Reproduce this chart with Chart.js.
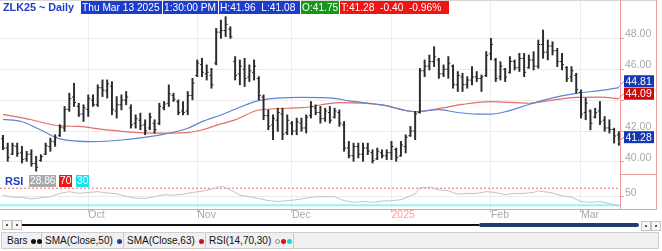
<!DOCTYPE html>
<html>
<head>
<meta charset="utf-8">
<script src="https://cdn.jsdelivr.net/npm/chart.js@4.4.1/dist/chart.umd.min.js"></script>
<style>
body { margin: 0; background: #fff; font-family: "Liberation Sans", Arial, sans-serif; }
#wrap { position: relative; width: 662px; height: 251px; overflow: hidden; background: #fff; }
canvas { position: absolute; left: 0; }
#priceChart { top: 0; }
#rsiChart { top: 174px; }
.ln { position: absolute; background: #f29a9a; }
.box { position: absolute; height: 13px; line-height: 13px; font-size: 10.2px; color: #fff; white-space: pre; overflow: hidden; padding-left: 1px; box-sizing: border-box; }
.lbl { position: absolute; font-weight: bold; color: #1e3cc8; white-space: pre; }
.btn { position: absolute; width: 8px; height: 8px; border: 1px solid #c4c4c4; background: #f6f6f6; }
.btn i { position: absolute; left: 3px; top: 3px; width: 2px; height: 2px; background: #555; }
#legend { position: absolute; left: 1px; top: 232px; width: 658px; height: 17px; background: #f0f0f0; border: 1px solid #cfcfcf; box-sizing: border-box; }
.item { position: absolute; top: 0; height: 15px; line-height: 15px; font-size: 10px; color: #111; border-right: 1px solid #c9c9c9; white-space: pre; padding-left: 3px; box-sizing: border-box; }
.dot { display: inline-block; width: 5px; height: 5px; border-radius: 50%; margin-left: 1px; vertical-align: 0px; }
</style>
</head>
<body>
<div id="wrap">
<canvas id="priceChart" width="662" height="174"></canvas>
<canvas id="rsiChart" width="662" height="48"></canvas>

<div class="ln" style="left:0;top:0;width:657px;height:1px;background:#d6d6d6"></div>
<div class="ln" style="left:620px;top:0;width:1px;height:210px"></div>
<div class="ln" style="left:656px;top:0;width:1px;height:210px"></div>
<div class="ln" style="left:621px;top:174px;width:36px;height:1px"></div>
<div class="ln" style="left:0;top:209px;width:657px;height:1px"></div>

<div class="lbl" style="left:3px;top:1px;font-size:10.8px;line-height:13px;background:#fff">ZLK25 ~ Daily</div>
<div class="box" style="left:81px;top:1px;width:81px;background:#1b3ccc">Thu Mar 13 2025</div>
<div class="box" style="left:163px;top:1px;width:55px;background:#1b3ccc">1:30:00 PM</div>
<div class="box" style="left:219px;top:1px;width:81px;background:#1b3ccc">H:41.96  L:41.08</div>
<div class="box" style="left:301px;top:1px;width:38px;background:#16961a">O:41.75</div>
<div class="box" style="left:340px;top:1px;width:109px;background:#f01414">T:41.28  -0.40  -0.96%</div>

<div class="lbl" style="left:5px;top:175px;font-size:11px;line-height:12px">RSI</div>
<div class="box" style="left:29px;top:175px;width:27px;height:12px;line-height:12px;background:#a9a9a9">28.86</div>
<div class="box" style="left:59px;top:175px;width:13px;height:12px;line-height:12px;background:#ee1616">70</div>
<div class="box" style="left:76px;top:175px;width:13px;height:12px;line-height:12px;background:#16e2ee">30</div>

<div class="btn" style="left:2px;top:220px"><i></i></div>
<div class="btn" style="left:12px;top:220px"><i></i></div>
<div class="ln" style="left:22px;top:224px;width:457px;height:2px;background:#111"></div>
<div class="ln" style="left:479px;top:223px;width:160px;height:4px;background:#1f3d6b;border-radius:2px"></div>
<div class="btn" style="left:641px;top:221px"><i></i></div>
<div class="btn" style="left:651px;top:221px"><i></i></div>

<div id="legend">
  <div class="item" style="left:2px;width:38px">Bars <span class="dot" style="background:#111"></span><span class="dot" style="background:#111"></span></div>
  <div class="item" style="left:40px;width:82px">SMA(Close,50) <span class="dot" style="background:#1b3ca6"></span></div>
  <div class="item" style="left:122px;width:82px">SMA(Close,63) <span class="dot" style="background:#d01010"></span></div>
  <div class="item" style="left:204px;width:88px">RSI(14,70,30) <span class="dot" style="border:1px solid #888;width:3px;height:3px"></span><span class="dot" style="background:#e01010"></span><span class="dot" style="background:#10d8e0"></span></div>
</div>
</div>

<script>
// bar index 0 = Sep 5 2024, last = Mar 13 2025
const monthTicks = [18, 41, 61, 82, 103, 122];
const monthLabels = ['Oct', 'Nov', 'Dec', '2025', 'Feb', 'Mar'];
const priceTicks = [40, 42, 44, 46, 48];
const rsiTicks = [50];
const rsiUpper = 70;
const rsiLower = 30;

const opens = [41.5, 40.9, 40.5, 41.0, 40.6, 40.2, 40.5, 39.9, 40.1, 40.5,
  41.0, 41.3, 41.7, 42.2, 43.4, 44.2, 43.6, 43.1, 43.4, 44.0,
  43.7, 44.8, 44.6, 44.9, 43.3, 43.7, 44.0, 43.5, 42.5, 42.7,
  42.4, 42.2, 42.5, 42.5, 43.5, 43.8, 44.3, 43.9, 43.3, 43.3,
  44.3, 45.6, 46.3, 45.7, 45.6, 46.4, 48.4, 48.5, 48.6, 46.5,
  45.7, 46.0, 45.5, 45.8, 45.4, 44.2, 43.0, 42.4, 42.7, 43.1,
  41.9, 42.5, 42.0, 42.5, 42.2, 43.0, 43.5, 43.2, 42.8, 43.2,
  42.9, 43.2, 42.4, 40.9, 40.4, 41.0, 40.5, 40.9, 40.6, 40.2,
  40.6, 40.4, 40.6, 40.8, 40.4, 41.0, 41.7, 42.0, 43.2, 45.9,
  46.2, 46.5, 46.6, 45.7, 46.0, 46.2, 45.0, 45.5, 45.0, 45.3,
  45.5, 45.4, 45.6, 47.0, 46.6, 45.5, 46.0, 45.8, 46.5, 46.1,
  46.7, 46.1, 46.6, 46.2, 47.6, 47.1, 47.5, 47.2, 46.5, 46.1,
  45.5, 45.6, 44.5, 43.2, 43.3, 42.9, 43.3, 42.7, 42.2, 42.1,
  41.75];
const highs = [41.72, 41.22, 41.22, 41.22, 41.01, 40.69, 40.79, 40.36, 40.47, 41.22,
  41.55, 41.76, 42.41, 43.59, 44.45, 45.09, 43.80, 43.70, 44.34, 44.34,
  44.99, 45.31, 45.31, 45.20, 44.23, 44.34, 44.56, 43.70, 43.05, 43.16,
  42.73, 43.16, 42.73, 43.80, 43.91, 44.99, 44.45, 44.02, 43.91, 44.56,
  45.41, 46.60, 46.71, 46.28, 46.06, 48.64, 49.18, 49.40, 48.75, 46.82,
  46.60, 46.71, 46.28, 46.60, 45.52, 44.34, 43.37, 43.05, 43.48, 43.48,
  43.05, 42.62, 42.84, 42.84, 43.05, 43.91, 43.70, 43.59, 43.48, 43.59,
  43.48, 43.37, 42.62, 41.33, 41.22, 41.22, 41.22, 41.22, 40.79, 40.90,
  40.79, 40.79, 41.33, 40.90, 41.33, 41.76, 42.30, 43.27, 46.06, 46.60,
  46.92, 47.46, 46.71, 46.28, 46.82, 46.28, 45.85, 45.74, 45.52, 46.17,
  45.85, 45.63, 47.14, 48.00, 46.71, 46.49, 46.06, 46.82, 46.60, 47.03,
  47.03, 46.92, 47.14, 47.89, 48.54, 47.89, 47.78, 47.35, 47.03, 46.17,
  46.17, 45.74, 44.66, 44.13, 43.37, 43.48, 43.91, 42.94, 42.73, 42.19,
  41.96];
const lows = [40.79, 40.04, 40.47, 40.36, 39.93, 40.04, 39.72, 39.40, 40.04, 40.47,
  40.69, 41.01, 41.65, 41.98, 43.27, 43.59, 42.94, 42.62, 42.94, 43.59,
  43.59, 44.23, 44.13, 43.05, 42.84, 43.37, 43.70, 42.19, 42.19, 42.08,
  41.76, 42.08, 41.87, 42.41, 43.37, 43.59, 43.91, 43.05, 43.05, 43.05,
  44.02, 45.52, 45.52, 45.30, 44.77, 46.28, 48.00, 48.11, 48.00, 45.30,
  44.99, 44.88, 45.20, 45.30, 44.02, 42.73, 42.08, 41.44, 41.98, 41.44,
  41.76, 41.76, 41.76, 41.98, 41.87, 42.84, 43.05, 42.51, 42.62, 42.51,
  42.84, 42.30, 40.69, 40.26, 40.04, 40.26, 40.04, 40.47, 39.93, 40.15,
  40.26, 40.15, 40.15, 40.04, 40.36, 40.58, 41.65, 41.44, 43.16, 45.52,
  45.95, 46.17, 45.41, 45.52, 45.41, 44.77, 44.56, 44.56, 44.77, 44.99,
  45.20, 44.56, 45.52, 46.60, 45.20, 45.30, 45.20, 45.74, 45.95, 45.85,
  45.52, 46.06, 45.95, 46.06, 46.71, 46.60, 46.92, 46.17, 45.95, 45.20,
  45.20, 44.45, 42.84, 42.73, 42.08, 42.84, 42.41, 41.98, 41.87, 41.22,
  41.08];
const closes = [40.9, 40.30, 41.05, 40.55, 40.15, 40.50, 39.90, 39.65, 40.35, 41.05,
  41.35, 41.60, 42.25, 43.40, 44.10, 43.85, 43.10, 43.50, 44.10, 43.70,
  44.80, 44.65, 45.05, 43.40, 43.70, 44.00, 44.20, 42.40, 42.80, 42.35,
  42.00, 42.90, 42.10, 43.60, 43.75, 44.40, 44.05, 43.20, 43.20, 44.30,
  45.10, 46.40, 45.80, 45.80, 45.00, 48.40, 48.50, 48.90, 48.10, 45.60,
  46.20, 45.40, 45.90, 46.20, 44.30, 43.00, 42.30, 42.80, 43.20, 41.80,
  42.70, 42.00, 42.60, 42.20, 42.90, 43.60, 43.20, 42.80, 43.30, 42.70,
  43.30, 42.50, 40.90, 40.40, 41.00, 40.50, 40.90, 40.70, 40.10, 40.70,
  40.40, 40.60, 41.00, 40.30, 41.10, 41.60, 42.00, 43.10, 45.90, 46.20,
  46.50, 46.80, 45.70, 46.00, 46.40, 45.00, 45.60, 45.00, 45.30, 45.50,
  45.40, 45.50, 46.90, 47.60, 45.40, 46.20, 45.50, 46.50, 46.10, 46.70,
  45.80, 46.60, 46.20, 47.60, 47.10, 47.50, 47.20, 46.50, 46.30, 45.40,
  45.90, 44.70, 43.10, 43.80, 42.50, 43.20, 42.60, 42.20, 42.10, 41.68,
  41.28];

// moving averages (bar index, value)
const sma50Idx = [0, 4, 8, 12, 19, 25, 33, 39, 42, 46, 49, 54, 63, 70, 73, 80, 87, 92, 96, 100, 103, 106, 111, 116, 121, 126, 130];
const sma50 = [42.76, 42.6, 42.07, 41.49, 41.31, 41.42, 41.74, 42.18, 42.61, 43.04, 43.41, 43.97, 44.18, 44.12, 43.95, 43.69, 43.25, 43.38, 43.2, 43.1, 43.1, 43.25, 43.72, 44.15, 44.44, 44.62, 44.81];
const sma63Idx = [0, 6, 12, 16, 21, 31, 39, 42, 46, 49, 54, 63, 71, 80, 87, 92, 97, 103, 111, 116, 121, 126, 130];
const sma63 = [43.08, 42.73, 42.33, 42.3, 42.11, 41.86, 41.9, 42.07, 42.46, 42.72, 43.36, 43.51, 43.84, 43.69, 43.25, 43.45, 43.72, 43.9, 43.8, 44.0, 44.18, 44.2, 44.09];

const rsiIdx = [0, 2, 4, 6, 8, 10, 12, 14, 16, 18, 20, 22, 24, 26, 28, 30, 32, 34, 36, 38,
  40, 42, 44, 46, 47, 48, 50, 52, 54, 56, 58, 60, 62, 64, 66, 68, 70, 72, 74, 76,
  78, 80, 82, 84, 86, 87, 88, 90, 92, 94, 96, 98, 100, 102, 104, 106, 108, 110, 112, 113,
  114, 116, 118, 120, 122, 124, 126, 128, 130];
const rsiVals = [54, 49, 49, 45, 48, 50, 58, 62, 58, 60, 62, 59, 57, 51, 47, 46, 50, 55, 54, 56,
  60, 63, 68, 74, 72, 66, 54, 50, 46, 41, 39, 41, 43, 47, 50, 50, 50, 41, 37, 39,
  37, 40, 41, 43, 52, 57, 71, 73, 66, 64, 56, 58, 58, 62, 60, 55, 58, 58, 60, 64,
  62, 59, 52, 49, 39, 37, 39, 34, 28.86];

const xMin = -0.63;
const xMax = 130.45;
const barColor = '#2b2b2b';
const gridColor = '#ececec';
const axisFont = { family: 'Liberation Sans', size: 10.5 };

function toPoints(idx, vals) {
    return idx.map((x, k) => ({ x: x, y: vals[k] }));
}

// keep the plot area flush with the canvas edges
function noPadding(axis) {
    axis.paddingTop = 0;
    axis.paddingBottom = 0;
    axis.paddingLeft = 0;
    axis.paddingRight = 0;
}

const last = closes.length - 1;
const priceTags = [
    { value: sma50[sma50.length - 1], color: '#1238b4', line: '#6f8fd8' },
    { value: sma63[sma63.length - 1], color: '#cc0a0a', line: '#e88080' },
    { value: closes[last], color: '#1238b4', line: '#6f8fd8' }
];

const tagPlugin = {
    id: 'tags',
    afterDraw(chart) {
        const ctx = chart.ctx;
        const y = chart.scales.y;
        const right = chart.chartArea.right;
        const items = priceTags.map(t => {
            const py = y.getPixelForValue(t.value);
            return Object.assign({ py: py, cy: py - 5 }, t);
        }).sort((a, b) => b.cy - a.cy);
        for (let k = 1; k < items.length; k++) {
            if (items[k - 1].cy - items[k].cy < 12.5) {
                items[k].cy = items[k - 1].cy - 12.5;
            }
        }
        ctx.save();
        items.forEach(t => {
            ctx.strokeStyle = t.line;
            ctx.lineWidth = 1;
            ctx.beginPath();
            ctx.moveTo(right - 3, t.py);
            ctx.lineTo(right + 3, t.cy);
            ctx.stroke();
            ctx.fillStyle = t.color;
            ctx.fillRect(right + 3, t.cy - 6, 30, 12);
            ctx.fillStyle = '#fff';
            ctx.font = '10.5px "Liberation Sans"';
            ctx.textBaseline = 'middle';
            ctx.textAlign = 'left';
            ctx.fillText(t.value.toFixed(2), right + 4.5, t.cy + 0.5);
        });
        ctx.restore();
    }
};

const barData = highs.map((h, i) => ({ x: i, y: [lows[i], h] }));
const openData = opens.map((o, i) => ({ x: i, y: o }));
const closeData = closes.map((c, i) => ({ x: i, y: c }));

const priceChart = new Chart(document.getElementById('priceChart').getContext('2d'), {
    type: 'bar',
    data: {
        datasets: [
            { type: 'bar', data: barData, backgroundColor: barColor, barThickness: 1.3, grouped: false, order: 0 },
            { type: 'scatter', data: openData, pointStyle: 'dash', pointRotation: 180, pointRadius: 2,
              pointBorderWidth: 1, pointBorderColor: barColor, order: 0 },
            { type: 'scatter', data: closeData, pointStyle: 'dash', pointRotation: 0, pointRadius: 2,
              pointBorderWidth: 1, pointBorderColor: barColor, order: 0 },
            { type: 'line', data: toPoints(sma50Idx, sma50), borderColor: '#6283d4', borderWidth: 1.2,
              pointRadius: 0, cubicInterpolationMode: 'monotone', order: 2 },
            { type: 'line', data: toPoints(sma63Idx, sma63), borderColor: '#e46c6c', borderWidth: 1.2,
              pointRadius: 0, cubicInterpolationMode: 'monotone', order: 2 }
        ]
    },
    options: {
        responsive: false,
        animation: false,
        layout: { padding: 0, autoPadding: false },
        plugins: { legend: { display: false }, tooltip: { enabled: false } },
        scales: {
            x: {
                type: 'linear', min: xMin, max: xMax, offset: false,
                afterBuildTicks: a => { a.ticks = monthTicks.map(v => ({ value: v })); },
                afterFit: a => { a.height = 0; noPadding(a); },
                ticks: { display: false },
                grid: { color: gridColor, drawTicks: false, offset: false },
                border: { display: false }
            },
            y: {
                position: 'right', min: 39.22, max: 50.48,
                afterBuildTicks: a => { a.ticks = priceTicks.map(v => ({ value: v })); },
                afterFit: a => { a.width = 41; noPadding(a); },
                ticks: { callback: v => v.toFixed(2), color: '#a9a9a9', font: axisFont, padding: 1, labelOffset: -4 },
                grid: { color: gridColor, tickColor: '#f3a0a0', tickLength: 3 },
                border: { display: false }
            }
        }
    },
    plugins: [tagPlugin]
});

const rsiChart = new Chart(document.getElementById('rsiChart').getContext('2d'), {
    type: 'line',
    data: {
        datasets: [
            { data: toPoints(rsiIdx, rsiVals), borderColor: '#c2c2c2', borderWidth: 1, pointRadius: 0 },
            { data: [{ x: xMin, y: rsiUpper }, { x: xMax, y: rsiUpper }], borderColor: '#f06a6a', borderWidth: 1,
              borderDash: [2, 2], pointRadius: 0 },
            { data: [{ x: xMin, y: rsiLower }, { x: xMax, y: rsiLower }], borderColor: '#98f2f2', borderWidth: 2,
              pointRadius: 0 }
        ]
    },
    options: {
        responsive: false,
        animation: false,
        layout: { padding: 0, autoPadding: false },
        plugins: { legend: { display: false }, tooltip: { enabled: false } },
        scales: {
            x: {
                type: 'linear', min: xMin, max: xMax,
                afterBuildTicks: a => { a.ticks = monthTicks.map(v => ({ value: v })); },
                afterFit: a => { a.height = 12.7; noPadding(a); },
                ticks: {
                    callback: v => { const k = monthTicks.indexOf(v); return k >= 0 ? monthLabels[k] : ''; },
                    align: 'start', autoSkip: false, maxRotation: 0, padding: -3, font: axisFont,
                    color: c => (c.index === 3 ? '#f4a2a2' : '#a9a9a9')
                },
                grid: { color: gridColor, tickColor: '#f3a0a0', tickLength: 3 },
                border: { display: false }
            },
            y: {
                position: 'right', min: 20.7, max: 103.3,
                afterBuildTicks: a => { a.ticks = rsiTicks.map(v => ({ value: v })); },
                afterFit: a => { a.width = 41; noPadding(a); },
                ticks: { color: '#a9a9a9', font: axisFont, padding: 1, labelOffset: -4 },
                grid: { color: gridColor, tickColor: '#f3a0a0', tickLength: 3 },
                border: { display: false }
            }
        }
    }
});
</script>
</body>
</html>
